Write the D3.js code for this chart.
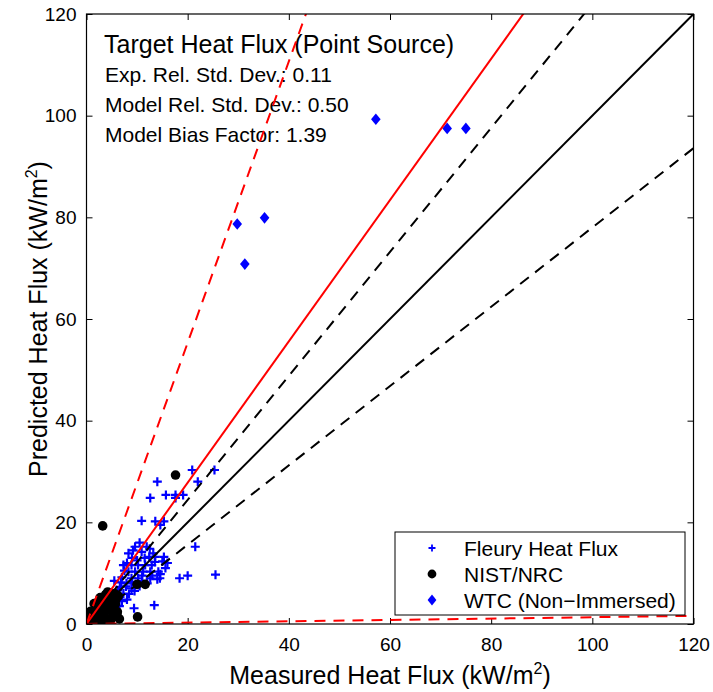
<!DOCTYPE html>
<html>
<head>
<meta charset="utf-8">
<script src="https://cdn.jsdelivr.net/npm/d3@7/dist/d3.min.js"></script>
<style>
  html, body { margin: 0; padding: 0; background: #fff; }
  svg { display: block; font-family: "Liberation Sans", Arial, Helvetica, sans-serif; }
</style>
</head>
<body>
<svg id="chart" width="713" height="692"></svg>
<script>
// Measured vs predicted heat flux (kW/m2)
const xTicks = [0, 20, 40, 60, 80, 100, 120];
const yTicks = [0, 20, 40, 60, 80, 100, 120];

const seriesNames = ["Fleury Heat Flux", "NIST/NRC", "WTC (Non\u2212Immersed)"];

// [measured, predicted]
const fleuryPoints = [
  [20.9, 30.3], [25.3, 30.3], [22.0, 28.0], [14.0, 28.0], [12.6, 24.8], [15.7, 25.4],
  [17.6, 25.4], [19.1, 25.4], [17.6, 24.8], [10.9, 20.3], [13.6, 20.2], [15.3, 20.2],
  [14.6, 19.5], [21.5, 15.2], [12.4, 13.2], [13.6, 13.2], [15.3, 13.2], [15.6, 11.0],
  [14.6, 9.8], [13.0, 9.5], [14.0, 8.8], [18.4, 9.0], [20.0, 9.5], [25.5, 9.7],
  [13.4, 3.7], [9.4, 3.1],
  [9.6, 15.2], [11.9, 15.2], [8.3, 13.9], [10.9, 14.2], [13.2, 13.9], [7.3, 11.6],
  [8.9, 11.6], [10.2, 11.6], [11.6, 11.6], [12.9, 11.6], [8.3, 10.3], [9.6, 10.3],
  [11.2, 10.3], [12.6, 10.3], [14.2, 10.3], [8.9, 9.0], [10.2, 9.0], [12.6, 9.0],
  [14.5, 9.0], [7.9, 8.0], [8.9, 7.0], [6.6, 7.3], [7.3, 6.0], [5.5, 8.5], [7.0, 9.2],
  [6.0, 5.2], [5.1, 5.9], [7.0, 4.5], [8.4, 5.9], [9.5, 6.5], [10.5, 7.5], [4.5, 4.8],
  [5.5, 4.0], [6.5, 3.5], [8.0, 4.8], [4.0, 5.5], [6.2, 6.6], [7.8, 7.4], [9.0, 8.3],
  [11.0, 8.5], [12.0, 8.0], [3.5, 3.5], [4.8, 3.0], [2.5, 2.8], [3.2, 4.2], [10.0, 12.5],
  [11.5, 13.0], [9.0, 13.0], [8.0, 12.0], [7.5, 10.5], [6.8, 8.2], [12.5, 14.8],
  [10.5, 16.0], [9.2, 14.5], [13.5, 12.2], [15.0, 12.3], [11.0, 9.5], [16.0, 12.0]
];

const nistPoints = [
  [17.6, 29.3], [3.2, 19.3], [10.1, 1.4], [10.0, 7.8], [11.6, 7.8],
  [0.5, 1.0], [1.4, 2.0], [2.4, 4.5], [4.7, 5.2], [5.7, 3.9], [2.4, 0.6], [4.7, 0.6],
  [3.4, 2.1], [1.0, 0.3], [3.0, 3.3], [4.0, 4.0], [5.0, 2.5], [6.3, 5.5], [5.5, 6.0],
  [2.0, 1.5], [3.8, 1.2], [0.8, 2.5], [1.8, 3.0], [4.5, 3.0], [6.0, 2.0], [6.1, 2.4],
  [3.5, 0.2], [2.7, 5.2], [3.8, 5.8], [1.5, 4.0], [6.5, 1.0], [5.2, 1.5], [2.0, 0.2],
  [0.3, 0.1], [4.2, 6.3], [5.8, 4.8]
];

const wtcPoints = [
  [57.2, 99.3], [71.3, 97.5], [75.0, 97.5], [29.8, 78.7], [35.2, 79.9], [31.3, 70.8]
];

// Summary statistics
const quantityName = "Target Heat Flux (Point Source)";
const expRelStd = 0.11;
const modelRelStd = 0.4952;
const biasFactor = 1.39;

// ---- layout ----
const svg = d3.select("#chart");
const plotLeft = 86.5, plotRight = 693.5, plotTop = 14, plotBottom = 624;

const x = d3.scaleLinear().domain([0, 120]).range([plotLeft, plotRight]);
const y = d3.scaleLinear().domain([0, 120]).range([plotBottom, plotTop]);

svg.append("defs").append("clipPath").attr("id", "plotClip")
  .append("rect").attr("x", plotLeft).attr("y", plotTop)
  .attr("width", plotRight - plotLeft).attr("height", plotBottom - plotTop);

// axes with inward ticks on all four sides
const tickFont = "19px";
svg.append("g").attr("transform", `translate(0,${plotBottom})`)
  .call(d3.axisBottom(x).tickValues(xTicks).tickSize(-6).tickSizeOuter(0).tickPadding(14));
svg.append("g").attr("transform", `translate(${plotLeft},0)`)
  .call(d3.axisLeft(y).tickValues(yTicks).tickSize(-6).tickSizeOuter(0).tickPadding(10));
svg.append("g").attr("transform", `translate(0,${plotTop})`)
  .call(d3.axisTop(x).tickValues(xTicks).tickSize(-6).tickSizeOuter(0).tickFormat(""));
svg.append("g").attr("transform", `translate(${plotRight},0)`)
  .call(d3.axisRight(y).tickValues(yTicks).tickSize(-6).tickSizeOuter(0).tickFormat(""));

svg.selectAll(".tick text").attr("font-size", tickFont).attr("fill", "#000")
  .attr("font-family", "Liberation Sans, Arial, sans-serif");
svg.selectAll(".domain").remove();
svg.selectAll(".tick line").attr("stroke", "#000");

// axis titles
const xTitle = svg.append("text").attr("x", (plotLeft + plotRight) / 2).attr("y", 684)
  .attr("text-anchor", "middle").attr("font-size", "25px");
xTitle.append("tspan").text("Measured Heat Flux (kW/m");
xTitle.append("tspan").attr("font-size", "16px").attr("dy", "-10").text("2");
xTitle.append("tspan").attr("dy", "10").text(")");

const yTitle = svg.append("text")
  .attr("transform", `translate(47,${(plotTop + plotBottom) / 2}) rotate(-90)`)
  .attr("text-anchor", "middle").attr("font-size", "25px");
yTitle.append("tspan").text("Predicted Heat Flux (kW/m");
yTitle.append("tspan").attr("font-size", "16px").attr("dy", "-10").text("2");
yTitle.append("tspan").attr("dy", "10").text(")");

// statistics text
const stats = svg.append("g");
stats.append("text").attr("x", 104).attr("y", 53).attr("font-size", "25px").text(quantityName);
stats.append("text").attr("x", 105).attr("y", 82).attr("font-size", "21px")
  .text(`Exp. Rel. Std. Dev.: ${expRelStd.toFixed(2)}`);
stats.append("text").attr("x", 105).attr("y", 112).attr("font-size", "21px")
  .text(`Model Rel. Std. Dev.: ${modelRelStd.toFixed(2)}`);
stats.append("text").attr("x", 105).attr("y", 142).attr("font-size", "21px")
  .text(`Model Bias Factor: ${biasFactor.toFixed(2)}`);

// markers
const plot = svg.append("g").attr("clip-path", "url(#plotClip)");
const plusPath = (s) => `M${-s},0H${s}M0,${-s}V${s}`;
const diamondPath = (w, h) => `M0,${-h}L${w},0L0,${h}L${-w},0Z`;

plot.append("g").selectAll("path").data(fleuryPoints).join("path")
  .attr("transform", d => `translate(${x(d[0])},${y(d[1])})`)
  .attr("d", plusPath(4.5)).attr("stroke", "#0000ff").attr("stroke-width", 2.2).attr("fill", "none");

plot.append("g").selectAll("circle").data(nistPoints).join("circle")
  .attr("cx", d => x(d[0])).attr("cy", d => y(d[1])).attr("r", 4.8).attr("fill", "#000");

plot.append("g").selectAll("path").data(wtcPoints).join("path")
  .attr("transform", d => `translate(${x(d[0])},${y(d[1])})`)
  .attr("d", diamondPath(4.8, 5.8)).attr("fill", "#0000ff");

// reference lines: y = k * x
const refLines = [
  { k: 1, color: "#000", dash: null },
  { k: 1 + 2 * expRelStd, color: "#000", dash: "11,8" },
  { k: 1 - 2 * expRelStd, color: "#000", dash: "11,8" },
  { k: biasFactor, color: "#ff0000", dash: null },
  { k: biasFactor * (1 + 2 * modelRelStd), color: "#ff0000", dash: "11,8" },
  { k: biasFactor * (1 - 2 * modelRelStd), color: "#ff0000", dash: "11,8" }
];
const line = d3.line().x(d => x(d[0])).y(d => y(d[1]));
plot.append("g").selectAll("path").data(refLines).join("path")
  .attr("d", d => line([[0, 0], [120, 120 * d.k]]))
  .attr("stroke", d => d.color).attr("stroke-width", 2).attr("fill", "none")
  .attr("stroke-dasharray", d => d.dash);

// plot frame
svg.append("rect").attr("x", plotLeft).attr("y", plotTop)
  .attr("width", plotRight - plotLeft).attr("height", plotBottom - plotTop)
  .attr("fill", "none").attr("stroke", "#000").attr("stroke-width", 1.2);

// legend
const lg = svg.append("g");
lg.append("rect").attr("x", 395).attr("y", 532).attr("width", 290).attr("height", 83)
  .attr("fill", "#fff").attr("stroke", "#000").attr("stroke-width", 1);
const rows = [548, 574, 600];
const mx = 432, tx = 464;
lg.append("path").attr("transform", `translate(${mx},${rows[0]})`).attr("d", plusPath(3.5))
  .attr("stroke", "#0000ff").attr("stroke-width", 1.8).attr("fill", "none");
lg.append("circle").attr("cx", mx).attr("cy", rows[1]).attr("r", 4.4).attr("fill", "#000");
lg.append("path").attr("transform", `translate(${mx},${rows[2]})`).attr("d", diamondPath(4.4, 5.6))
  .attr("fill", "#0000ff");
lg.selectAll("text.lab").data(seriesNames).join("text").attr("class", "lab")
  .attr("x", tx).attr("y", (d, i) => rows[i] + 7.5).attr("font-size", "21px").text(d => d);
</script>
</body>
</html>
